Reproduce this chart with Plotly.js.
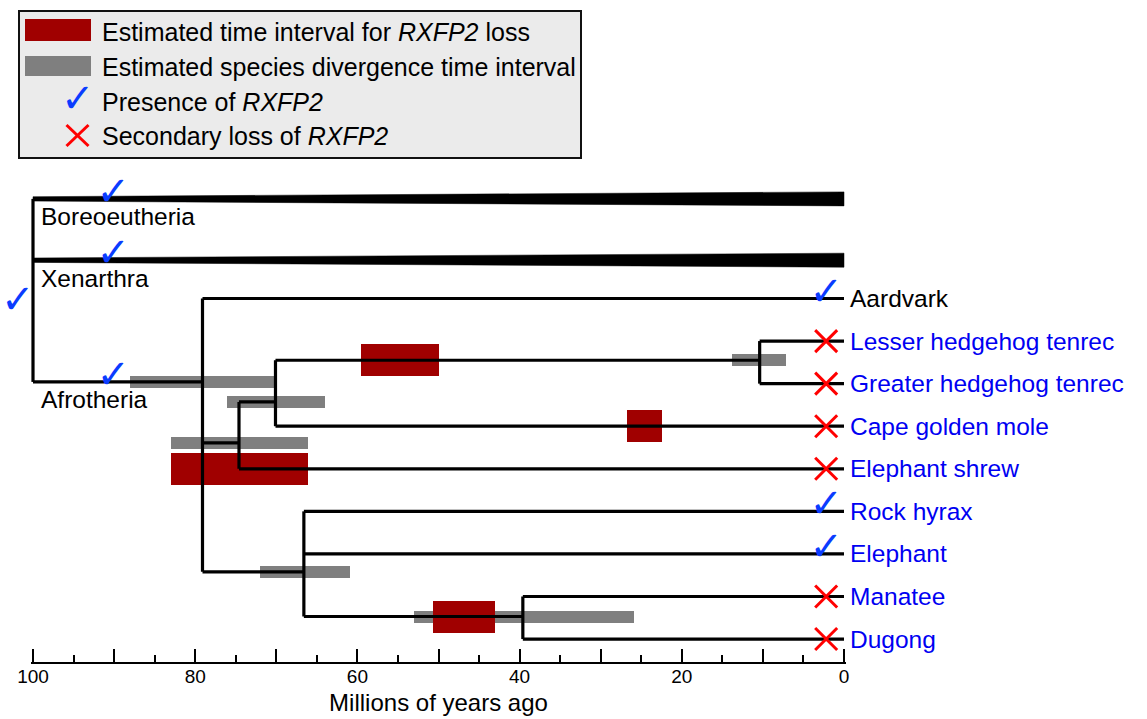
<!DOCTYPE html>
<html>
<head>
<meta charset="utf-8">
<script src="https://cdn.plot.ly/plotly-3.0.1.min.js"></script>
<style>
html,body{margin:0;padding:0;background:#ffffff;}
#chart{width:1147px;height:719px;}
</style>
</head>
<body>
<div id="chart"></div>
<script>
// ================= DATA =================
// Tree nodes (ages in millions of years ago, rows = vertical slot of each lineage)
const nodeNames  = ['root','Boreoeutheria','Xenarthra','Afrotheria','Aardvark','Afroinsectiphilia','Afrosoricida','Tenrecidae','Lesser hedgehog tenrec','Greater hedgehog tenrec','Cape golden mole','Elephant shrew','Paenungulata','Rock hyrax','Elephant','Sirenia','Manatee','Dugong'];
const nodeParent = [null,'root','root','root','Afrotheria','Afrotheria','Afroinsectiphilia','Afrosoricida','Tenrecidae','Tenrecidae','Afrosoricida','Afroinsectiphilia','Afrotheria','Paenungulata','Paenungulata','Paenungulata','Sirenia','Sirenia'];
const nodeAge    = [100, 0, 0, 79.1, 0, 74.6, 70.1, 10.4, 0, 0, 0, 0, 66.6, 0, 0, 39.6, 0, 0];
const nodeRow    = [0.1, -2.34, -0.9, 1.96, 0, 3.39, 2.43, 1.45, 1, 2, 3, 4, 6.42, 5, 6, 7.47, 7, 8];

// Broad clades drawn as collapsed wedges, and clade labels
const wedgeClades = ['Boreoeutheria','Xenarthra'];
const cladeLabels = ['Boreoeutheria','Xenarthra','Afrotheria'];

// Species (tips) shown with names
const tipNames = ['Aardvark','Lesser hedgehog tenrec','Greater hedgehog tenrec','Cape golden mole','Elephant shrew','Rock hyrax','Elephant','Manatee','Dugong'];

// Estimated species divergence time intervals (grey)
const divergenceNode = ['Afrotheria','Afroinsectiphilia','Afrosoricida','Tenrecidae','Paenungulata','Sirenia'];
const divergenceFrom = [88.0, 83.0, 76.1, 13.8, 72.0, 53.0];
const divergenceTo   = [70.2, 66.1, 64.0, 7.2, 60.9, 25.9];

// Estimated time interval for RXFP2 loss (dark red)
const lossBranch = ['Tenrecidae','Cape golden mole','Elephant shrew','Sirenia'];
const lossFrom   = [59.5, 26.8, 83.0, 50.7];
const lossTo     = [50.0, 22.5, 66.1, 43.0];

// Presence of RXFP2 (check marks) and secondary loss (crosses)
const presenceBranch = ['root','Boreoeutheria','Xenarthra','Afrotheria','Aardvark','Rock hyrax','Elephant'];
const presenceAge    = [101.8, 90.1, 90.1, 90.1, 2.2, 2.2, 2.2];
const lossMarkTips   = ['Lesser hedgehog tenrec','Greater hedgehog tenrec','Cape golden mole','Elephant shrew','Manatee','Dugong'];
const lossMarkAge    = [2.2, 2.2, 2.2, 2.2, 2.2, 2.2];

// Axis ticks
const xTickVals  = [100, 90, 80, 70, 60, 50, 40, 30, 20, 10, 0];
const xTickText  = ['100', '', '80', '', '60', '', '40', '', '20', '', '0'];
const xMinorVals = [95, 85, 75, 65, 55, 45, 35, 25, 15, 5];

// Legend entries
const legendLabels = [
  'Estimated time interval for <i>RXFP2</i> loss',
  'Estimated species divergence time interval',
  'Presence of <i>RXFP2</i>',
  'Secondary loss of <i>RXFP2</i>'
];

// ================= STYLE / LAYOUT CONSTANTS =================
const W = 1147, H = 719;
const ML = 31, MR = 301, MT = 0, MB = 57;
const PW = W - ML - MR, PH = H - MT - MB;
const PX_PER_MA = 8.11;          // pixels per million years
const PX_PER_ROW = 42.57;        // pixels per row
const ROW0_PX = 298.5;           // pixel of row 0
const AGE100_PX = 33;            // pixel of 100 Ma
const padMa = (AGE100_PX - ML) / PX_PER_MA;
const xRange = [100 + padMa, 100 + padMa - PW / PX_PER_MA];
const yRange = [(PH - ROW0_PX) / PX_PER_ROW, -ROW0_PX / PX_PER_ROW];

const FONT = 'Arial, "Liberation Sans", Helvetica, sans-serif';
const CHECK_FONT = '"DejaVu Sans", sans-serif';
const CHECK_SIZE = 40;
const RED = '#a00000', GREY = '#7f7f7f', BLUE_TXT = '#0000f2', CHECK_BLUE = '#0a3cff', CROSS_RED = '#ff0000';

const idx = n => nodeNames.indexOf(n);
const ageOf = n => nodeAge[idx(n)];
const rowOf = n => nodeRow[idx(n)];
const pxToPaperX = px => (px - ML) / PW;
const pyToPaperY = py => (PH - (py - MT)) / PH;
const ageToPaperX = a => pxToPaperX(AGE100_PX + (100 - a) * PX_PER_MA);
const rowToPaperY = r => pyToPaperY(ROW0_PX + r * PX_PER_ROW);
const rowShift = px => px / PX_PER_ROW;

// ================= BUILD TREE LINES =================
const lx = [], ly = [];
nodeNames.forEach((name, i) => {
  const kids = nodeNames.filter((_, j) => nodeParent[j] === name);
  if (kids.length) {
    const rows = kids.map(rowOf);
    lx.push(nodeAge[i], nodeAge[i], null);
    ly.push(Math.min(...rows), Math.max(...rows), null);
  }
  if (nodeParent[i] !== null && !wedgeClades.includes(name)) {
    lx.push(ageOf(nodeParent[i]), nodeAge[i], null);
    ly.push(nodeRow[i], nodeRow[i], null);
  }
});

const traces = [];

// Divergence bars (grey)
traces.push({
  type: 'bar', orientation: 'h',
  y: divergenceNode.map(rowOf),
  base: divergenceTo,
  x: divergenceFrom.map((f, k) => f - divergenceTo[k]),
  width: rowShift(12),
  marker: {color: GREY, line: {width: 0}},
  hoverinfo: 'skip', showlegend: false
});
// Loss interval bars (red)
traces.push({
  type: 'bar', orientation: 'h',
  y: lossBranch.map(rowOf),
  base: lossTo,
  x: lossFrom.map((f, k) => f - lossTo[k]),
  width: rowShift(32),
  marker: {color: RED, line: {width: 0}},
  hoverinfo: 'skip', showlegend: false
});
// Wedges
wedgeClades.forEach(c => {
  const r = rowOf(c), a0 = ageOf(nodeParent[idx(c)]), a1 = ageOf(c);
  const t0 = rowShift(2.2), t1 = rowShift(7);
  traces.push({
    type: 'scatter', mode: 'lines',
    x: [a0, a1, a1, a0, a0], y: [r - t0, r - t1, r + t1, r + t0, r - t0],
    fill: 'toself', fillcolor: '#000', line: {color: '#000', width: 0.5},
    hoverinfo: 'skip', showlegend: false
  });
});
// Tree lines
traces.push({
  type: 'scatter', mode: 'lines', x: lx, y: ly,
  line: {color: '#000', width: 3.2}, connectgaps: false,
  hoverinfo: 'skip', showlegend: false
});
// Presence check marks (inside the time axis)
const inRange = a => a <= 100 && a >= 0;
const pIn = presenceBranch.map((b, k) => k).filter(k => inRange(presenceAge[k]));
traces.push({
  type: 'scatter', mode: 'text',
  x: pIn.map(k => presenceAge[k]),
  y: pIn.map(k => rowOf(presenceBranch[k]) - rowShift(4)),
  text: pIn.map(() => '\u2713'),
  textposition: 'middle center',
  textfont: {family: CHECK_FONT, size: CHECK_SIZE, color: CHECK_BLUE},
  cliponaxis: false, hoverinfo: 'skip', showlegend: false
});
// Loss crosses
traces.push({
  type: 'scatter', mode: 'markers',
  x: lossMarkAge, y: lossMarkTips.map(rowOf),
  marker: {symbol: 'x-thin-open', size: 22, color: CROSS_RED, line: {color: CROSS_RED, width: 3}},
  cliponaxis: false, hoverinfo: 'skip', showlegend: false
});

// ================= ANNOTATIONS & SHAPES =================
const annotations = [];
// check marks lying outside the time axis (the root)
presenceBranch.forEach((b, k) => {
  if (inRange(presenceAge[k])) return;
  annotations.push({
    x: ageToPaperX(presenceAge[k]), y: rowToPaperY(rowOf(b)), xref: 'paper', yref: 'paper',
    xanchor: 'center', yanchor: 'middle', yshift: 4, text: '\u2713', showarrow: false,
    font: {family: CHECK_FONT, size: CHECK_SIZE, color: CHECK_BLUE}
  });
});
tipNames.forEach(n => {
  annotations.push({
    x: 0, y: rowOf(n), xref: 'x', yref: 'y', xanchor: 'left', yanchor: 'middle',
    xshift: 4, text: n, showarrow: false,
    font: {family: FONT, size: 24.5, color: n === 'Aardvark' ? '#000' : BLUE_TXT}
  });
});
cladeLabels.forEach(n => {
  annotations.push({
    x: 100 - 6 / PX_PER_MA, y: rowOf(n), xref: 'x', yref: 'y', xanchor: 'left', yanchor: 'middle',
    yshift: -18, text: n, showarrow: false,
    font: {family: FONT, size: 24.5, color: '#000'}
  });
});

// Legend (drawn in paper coordinates)
const legendRowPy = [32, 67, 102, 136];
legendLabels.forEach((t, k) => {
  annotations.push({
    x: pxToPaperX(100), y: pyToPaperY(legendRowPy[k]), xref: 'paper', yref: 'paper',
    xanchor: 'left', yanchor: 'middle', text: t, showarrow: false,
    font: {family: FONT, size: 25, color: '#000'}
  });
});
annotations.push({
  x: pxToPaperX(77.5), y: pyToPaperY(98), xref: 'paper', yref: 'paper',
  xanchor: 'center', yanchor: 'middle', text: '\u2713', showarrow: false,
  font: {family: CHECK_FONT, size: CHECK_SIZE, color: CHECK_BLUE}
});

const shapes = [
  {type: 'rect', xref: 'paper', yref: 'paper', x0: pxToPaperX(19), x1: pxToPaperX(581), y0: pyToPaperY(11), y1: pyToPaperY(158),
   fillcolor: '#ebebeb', line: {color: '#111', width: 2}, layer: 'above'},
  {type: 'rect', xref: 'paper', yref: 'paper', x0: pxToPaperX(25), x1: pxToPaperX(91), y0: pyToPaperY(19), y1: pyToPaperY(41),
   fillcolor: RED, line: {width: 0}, layer: 'above'},
  {type: 'rect', xref: 'paper', yref: 'paper', x0: pxToPaperX(25), x1: pxToPaperX(91), y0: pyToPaperY(56), y1: pyToPaperY(76),
   fillcolor: GREY, line: {width: 0}, layer: 'above'},
  {type: 'line', xref: 'paper', yref: 'paper', x0: pxToPaperX(66.5), x1: pxToPaperX(88.5), y0: pyToPaperY(125), y1: pyToPaperY(146),
   line: {color: CROSS_RED, width: 3}, layer: 'above'},
  {type: 'line', xref: 'paper', yref: 'paper', x0: pxToPaperX(66.5), x1: pxToPaperX(88.5), y0: pyToPaperY(146), y1: pyToPaperY(125),
   line: {color: CROSS_RED, width: 3}, layer: 'above'}
];

const layout = {
  width: W, height: H,
  margin: {l: ML, r: MR, t: MT, b: MB, pad: 0},
  paper_bgcolor: '#ffffff', plot_bgcolor: 'rgba(0,0,0,0)',
  showlegend: false, barmode: 'overlay', bargap: 0,
  font: {family: FONT, color: '#000'},
  xaxis: {
    range: xRange, showgrid: false, zeroline: false,
    showline: true, linecolor: '#000', linewidth: 2,
    ticks: 'inside', ticklen: 13, tickwidth: 2, tickcolor: '#000',
    tickmode: 'array', tickvals: xTickVals, ticktext: xTickText,
    tickfont: {family: FONT, size: 19, color: '#000'},
    ticklabelstandoff: -4,
    minor: {ticks: 'inside', ticklen: 7, tickwidth: 2, tickcolor: '#000', tickmode: 'array', tickvals: xMinorVals, showgrid: false},
    title: {text: 'Millions of years ago', font: {family: FONT, size: 24, color: '#000'}, standoff: 8},
    fixedrange: true
  },
  yaxis: {range: yRange, visible: false, showgrid: false, zeroline: false, fixedrange: true},
  annotations: annotations,
  shapes: shapes
};

Plotly.newPlot('chart', traces, layout, {displayModeBar: false, staticPlot: true});
</script>
</body>
</html>
